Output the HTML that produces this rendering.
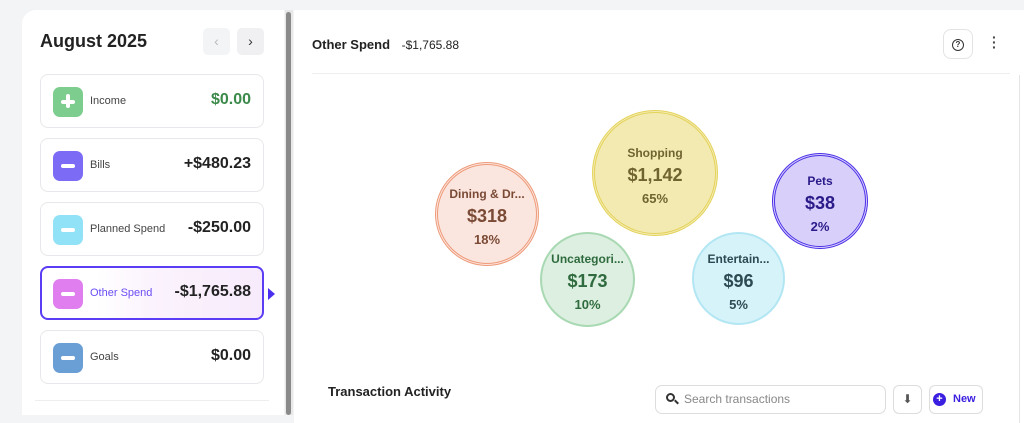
<!DOCTYPE html>
<html><head><style>
*{box-sizing:border-box;margin:0;padding:0}
body{width:1024px;height:423px;overflow:hidden;background:#f3f4f6;font-family:"Liberation Sans",sans-serif;position:relative}
.abs{position:absolute}
.left{left:22px;top:10px;width:262px;height:405px;background:#fff;border-radius:14px 0 0 0}
.card{position:absolute;left:40px;width:224px;height:54px;border:1px solid #e8e8ec;border-radius:8px;background:#fff}
.ic{position:absolute;left:12px;top:12px;width:30px;height:30px;border-radius:7px}
.ic:after{content:"";position:absolute;left:8px;top:13px;width:14px;height:4px;background:#fff;border-radius:2px}
.lbl{position:absolute;left:49px;top:20px;font-size:11px;color:#444}
.val{position:absolute;right:12px;top:16px;font-size:16px;font-weight:bold;color:#222}
.bub{position:absolute;border-radius:50%;text-align:center;font-weight:bold}
.bub .n{font-size:12px}.bub .a{font-size:18px;margin-top:5px}.bub .p{font-size:13px;margin-top:5px}
</style></head><body>
<div class="abs left"></div>
<div class="abs" style="left:40px;top:31px;font-size:18px;font-weight:bold;color:#222">August 2025</div>
<div class="abs" style="left:203px;top:28px;width:27px;height:27px;background:#f3f4f6;border-radius:5px;color:#bbb;font-size:14px;text-align:center;line-height:27px">‹</div>
<div class="abs" style="left:237px;top:28px;width:27px;height:27px;background:#f0f0f2;border-radius:5px;color:#333;font-size:14px;text-align:center;line-height:27px">›</div>

<div class="card" style="top:74px"><div class="ic" style="background:#7ccd8e"></div><div class="abs" style="left:25px;top:19px;width:4px;height:14px;background:#fff;border-radius:2px;z-index:2"></div><div class="lbl">Income</div><div class="val" style="color:#3b8a4a">$0.00</div></div>
<div class="card" style="top:138px"><div class="ic" style="background:#7c6cf5"></div><div class="lbl">Bills</div><div class="val">+$480.23</div></div>
<div class="card" style="top:202px"><div class="ic" style="background:#92e2f7"></div><div class="lbl">Planned Spend</div><div class="val">-$250.00</div></div>
<div class="card" style="top:266px;border:2px solid #5b3df5;background:linear-gradient(90deg,#fff 25%,#fbf3fd 50%,#f7ebfb)"><div class="ic" style="background:#e07ef0;left:11px;top:11px"></div><div class="lbl" style="color:#6a4df5;left:48px;top:19px">Other Spend</div><div class="val" style="top:15px;right:11px">-$1,765.88</div></div>
<div class="abs" style="left:268px;top:288px;width:0;height:0;border-left:7px solid #4b2ff0;border-top:6px solid transparent;border-bottom:6px solid transparent"></div>
<div class="card" style="top:330px"><div class="ic" style="background:#6a9fd6"></div><div class="lbl">Goals</div><div class="val">$0.00</div></div>
<div class="abs" style="left:35px;top:400px;width:234px;height:1px;background:#eee"></div>

<div class="abs" style="left:285px;top:10px;width:8px;height:405px;background:#e8e8e8"></div>
<div class="abs" style="left:286px;top:12px;width:5px;height:403px;background:#8a8a8a;border-radius:3px"></div>
<div class="abs" style="left:294px;top:10px;width:730px;height:413px;background:#fff"></div>
<div class="abs" style="left:312px;top:37px;font-size:13px;font-weight:bold;color:#222">Other Spend <span style="font-weight:normal;font-size:12px;margin-left:8px">-$1,765.88</span></div>
<div class="abs" style="left:943px;top:29px;width:30px;height:30px;border:1px solid #e3e3e3;border-radius:8px;text-align:center;line-height:28px;font-size:11px;color:#333"><span style="display:inline-block;width:12px;height:12px;border:1.5px solid #333;border-radius:50%;line-height:9px;font-size:8px;font-weight:bold">?</span></div>
<div class="abs" style="left:992px;top:35px;font-size:14px;color:#444;line-height:5px;font-weight:bold">·<br>·<br>·</div>
<div class="abs" style="left:312px;top:73px;width:698px;height:1px;background:#eee"></div>
<div class="abs" style="left:1019px;top:75px;width:1px;height:348px;background:#e5e5e5"></div>

<div class="bub" style="left:592px;top:110px;width:126px;height:126px;background:#f3eab2;border:3px double #e4d35a;color:#6f6330;padding-top:33px"><div class="n">Shopping</div><div class="a">$1,142</div><div class="p">65%</div></div>
<div class="bub" style="left:435px;top:162px;width:104px;height:104px;background:#fbe6df;border:3px double #ee9a78;color:#7a4a35;padding-top:22px"><div class="n">Dining &amp; Dr...</div><div class="a">$318</div><div class="p">18%</div></div>
<div class="bub" style="left:540px;top:232px;width:95px;height:95px;background:#dcefe0;border:2px solid #a8d9b2;color:#2f6b3e;padding-top:18px"><div class="n">Uncategori...</div><div class="a">$173</div><div class="p">10%</div></div>
<div class="bub" style="left:692px;top:232px;width:93px;height:93px;background:#d6f3fa;border:2px solid #b3e6f3;color:#2d4a52;padding-top:18px"><div class="n">Entertain...</div><div class="a">$96</div><div class="p">5%</div></div>
<div class="bub" style="left:772px;top:153px;width:96px;height:96px;background:#d8d0fa;border:3px double #4a2fe8;color:#2a1a8a;padding-top:18px"><div class="n">Pets</div><div class="a">$38</div><div class="p">2%</div></div>

<div class="abs" style="left:328px;top:384px;font-size:13px;font-weight:bold;color:#222">Transaction Activity</div>
<div class="abs" style="left:655px;top:385px;width:231px;height:29px;border:1px solid #ddd;border-radius:7px;font-size:12px;color:#888;line-height:27px;padding-left:28px">Search transactions</div>
<div class="abs" style="left:666px;top:393px;width:9px;height:9px;border:2px solid #333;border-radius:50%"></div>
<div class="abs" style="left:674px;top:401px;width:5px;height:2px;background:#333;transform:rotate(45deg)"></div>
<div class="abs" style="left:893px;top:385px;width:29px;height:29px;border:1px solid #ddd;border-radius:6px;text-align:center;font-size:12px;color:#555;line-height:27px">⬇</div>
<div class="abs" style="left:929px;top:385px;width:54px;height:29px;border:1px solid #ddd;border-radius:6px"></div>
<div class="abs" style="left:933px;top:393px;width:13px;height:13px;border-radius:50%;background:#3a1fe0;color:#fff;font-size:11px;font-weight:bold;text-align:center;line-height:13px">+</div>
<div class="abs" style="left:953px;top:393px;font-size:11px;font-weight:bold;color:#3a1fe0">New</div>
</body></html>
